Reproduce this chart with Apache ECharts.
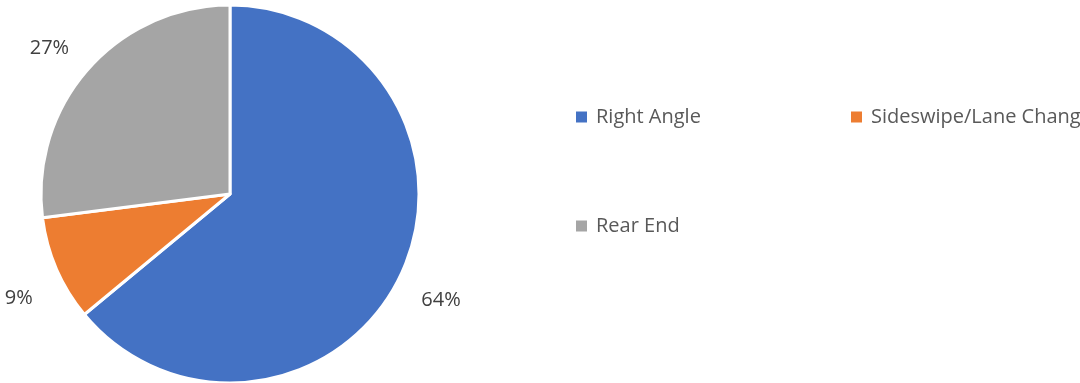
<!DOCTYPE html>
<html>
<head>
<meta charset="utf-8">
<script src="https://cdn.jsdelivr.net/npm/echarts@6/dist/echarts.min.js"></script>
<style>
  html, body { margin: 0; padding: 0; background: #ffffff; }
  #chart { width: 1080px; height: 383px; }
</style>
</head>
<body>
<div id="chart"></div>
<script>
// Crash types and their share of collisions (%)
const categories = ['Right Angle', 'Sideswipe/Lane Change', 'Rear End'];
const shares = [64, 9, 27];
const colors = ['#4472C4', '#ED7D31', '#A5A5A5'];

const FONT = 'Open Sans';
const pieData = categories.map((name, i) => ({
  name: name,
  value: shares[i],
  itemStyle: { color: colors[i] }
}));

const legendText = {
  fontFamily: FONT,
  fontSize: 20,
  color: '#595959',
  lineHeight: 22,
  padding: [0, 0, 0, 4]
};

const legendBase = {
  orient: 'vertical',
  top: 101,
  icon: 'rect',
  itemWidth: 11,
  itemHeight: 11,
  selectedMode: false,
  itemStyle: { borderWidth: 0 },
  textStyle: legendText
};

const chart = echarts.init(document.getElementById('chart'), null, { renderer: 'canvas' });
chart.setOption({
  animation: false,
  color: colors,
  legend: [
    Object.assign({}, legendBase, { data: [categories[0], categories[2]], left: 571, itemGap: 87 }),
    Object.assign({}, legendBase, { data: [categories[1]], left: 846 })
  ],
  series: [
    {
      type: 'pie',
      center: [230, 194],
      radius: [0, 189],
      startAngle: 90,
      clockwise: true,
      silent: true,
      label: { show: false },
      labelLine: { show: false },
      itemStyle: { borderColor: '#ffffff', borderWidth: 3 },
      data: pieData
    },
    {
      // invisible ring that carries the percentage labels outside the pie
      type: 'pie',
      center: [231, 197],
      radius: [220, 244],
      startAngle: 92,
      clockwise: true,
      silent: true,
      itemStyle: { color: 'rgba(0,0,0,0)' },
      label: {
        show: true,
        position: 'inside',
        formatter: '{c}%',
        fontFamily: FONT,
        fontSize: 20,
        color: '#404040'
      },
      labelLine: { show: false },
      labelLayout: function (params) {
        return params.dataIndex === 0 ? { dx: -6, dy: 11 } : {};
      },
      data: pieData.map(d => ({ name: d.name, value: d.value, itemStyle: { color: 'rgba(0,0,0,0)' } }))
    }
  ]
});
</script>
</body>
</html>
